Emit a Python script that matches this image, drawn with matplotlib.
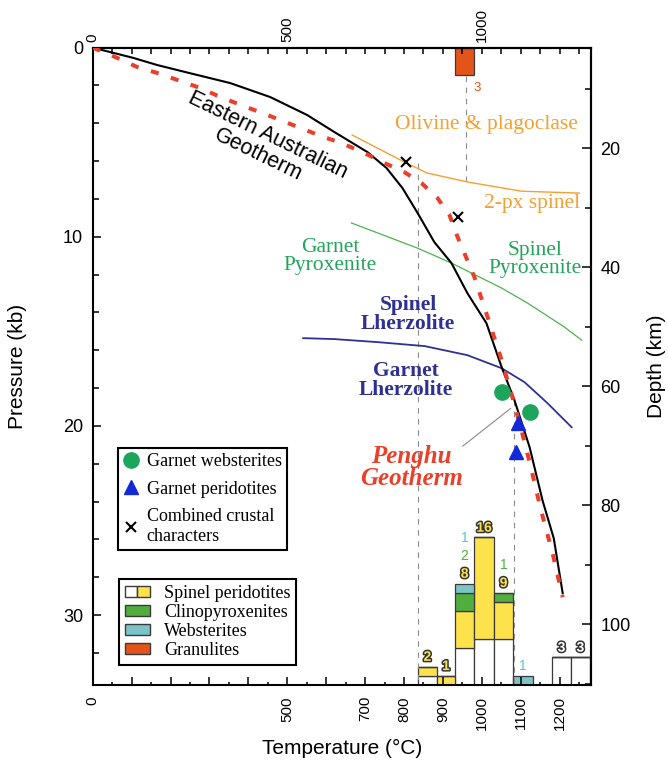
import matplotlib

matplotlib.use("Agg")

import matplotlib.pyplot as plt
import matplotlib.patheffects as pe
from matplotlib.legend_handler import HandlerTuple
from matplotlib.lines import Line2D
from matplotlib.patches import Patch

SANS = "Liberation Sans"
SERIF = "Liberation Serif"

# geotherms and phase boundaries: temperature (degC), pressure (kb)
EA_T = [0, 104, 166, 250, 353, 456, 551, 621, 706, 755, 796, 835, 878, 922,
        963, 1012, 1051, 1084, 1123, 1156, 1185, 1208]
EA_P = [0, 0.54, 0.92, 1.35, 1.87, 2.61, 3.56, 4.46, 5.52, 6.36, 7.42, 8.74,
        10.28, 11.39, 12.98, 14.57, 16.89, 18.64, 21.13, 23.93, 25.94, 28.85]
PH_T = [0, 63, 114, 166, 225, 276, 328, 387, 449, 534, 593, 639, 698, 750,
        801, 845, 886, 917, 938, 981, 1015, 1051, 1076, 1102, 1125, 1151, 1182, 1208]
PH_P = [0, 0.54, 1.02, 1.34, 1.76, 2.13, 2.61, 3.08, 3.56, 4.25, 4.72, 5.04,
        5.57, 6.10, 6.58, 7.16, 7.95, 8.85, 10.02, 12.13, 14.25, 16.52, 18.27,
        20.23, 22.08, 24.36, 26.74, 29.06]
OLIV_T = [667, 806, 860, 963, 1102, 1251]
OLIV_P = [4.62, 6.10, 6.63, 7.10, 7.59, 7.69]
PYX_T = [665, 835, 922, 1051, 1118, 1213, 1257]
PYX_P = [9.27, 10.60, 11.39, 12.71, 13.51, 14.78, 15.47]
LHZ_T = [541, 621, 732, 853, 963, 1051, 1110, 1169, 1231]
LHZ_P = [15.36, 15.41, 15.57, 15.78, 16.26, 16.95, 17.69, 18.80, 20.07]

# xenolith estimates
GWEB_T = [1052, 1123]
GWEB_P = [18.20, 19.26]
GPER_T = [1093, 1087]
GPER_P = [19.87, 21.38]
CRUST_T = [804, 940]
CRUST_P = [6.05, 8.96]

# temperature histogram (counts per bin)
BIN_LEFT = [835, 885, 931, 981, 1031, 1081, 1181, 1229]
BIN_RIGHT = [885, 931, 981, 1031, 1081, 1131, 1229, 1278]
SPL_WHITE = [1, 0, 4, 5, 5, 0, 3, 3]
SPL_YELLOW = [1, 1, 4, 11, 4, 0, 0, 0]
CPX = [0, 0, 2, 0, 1, 0, 0, 0]
WEB = [0, 0, 1, 0, 0, 1, 0, 0]
GRAN_LEFT, GRAN_RIGHT, GRAN_N = 931, 981, 3

# guide lines
GUIDE_T = [835, 960, 1082]
GUIDE_P0 = [6.1, 1.5, 18.64]
GUIDE_P1 = [33.7, 7.1, 33.7]
LEADER_T = [951, 1074]
LEADER_P = [21.07, 19.08]

BOTTOM_TICKS = list(range(0, 1300, 100))
BOTTOM_LABELS = ["0", "", "", "", "", "500", "", "700", "800", "900", "1000", "1100", "1200"]
TOP_TICKS = [0, 500, 1000]
P_TICKS = [0, 10, 20, 30]
DEPTH_TICKS = [20, 40, 60, 80, 100]
DEPTH_MINOR = [10, 30, 50, 70, 90, 110]

RED = "#e8402a"
ORANGE = "#f5a033"
GREEN_LINE = "#4cb24e"
GREEN_TXT = "#22a55b"
NAVY = "#2e3192"
YELLOW = "#fde24b"
BAR_GREEN = "#52ad3f"
CYAN = "#7dc4c8"
GRAN = "#e4541a"
EDGE = "#3a3a3a"
GREY = "#8a8a8a"


def p_to_depth(p):
    return 3.18 * p + 3.07


def depth_to_p(d):
    return (d - 3.07) / 3.18


fig = plt.figure(figsize=(6.68, 7.7), dpi=100)
ax = fig.add_axes([0.1388, 0.1104, 0.7455, 0.8277])
ax.set_xlim(0, 1280)
ax.set_ylim(33.7, 0)

for sp in ax.spines.values():
    sp.set_linewidth(1.5)

# bottom axis
ax.set_xticks(BOTTOM_TICKS)
ax.set_xticklabels(BOTTOM_LABELS, rotation=90, fontsize=11, family=SANS)
ax.set_xticks(range(50, 1300, 100), minor=True)
ax.tick_params(axis="x", which="major", direction="in", length=5.5, width=1.1, pad=8)
ax.tick_params(axis="x", which="minor", direction="in", length=2.3, width=1.1)
ax.set_xlabel("Temperature (°C)", fontsize=15, family=SANS)
ax.xaxis.set_label_coords(0.5, -0.085)

# left axis
ax.set_yticks(P_TICKS)
ax.set_yticklabels([str(v) for v in P_TICKS], fontsize=13, family=SANS)
ax.set_yticks(range(2, 34, 2), minor=True)
ax.tick_params(axis="y", which="major", direction="in", length=5.5, width=1.1, pad=7)
ax.tick_params(axis="y", which="minor", direction="in", length=4, width=1.1)
ax.set_ylabel("Pressure (kb)", fontsize=15, family=SANS)
ax.yaxis.set_label_coords(-0.132, 0.5)

# top axis
top = ax.secondary_xaxis("top")
top.set_xticks(TOP_TICKS)
top.set_xticklabels([str(v) for v in TOP_TICKS], rotation=90, fontsize=11, family=SANS)
top.set_xticks(range(50, 1300, 50), minor=True)
top.tick_params(which="both", direction="in", length=4, width=1.1, pad=4)
top.spines["top"].set_linewidth(1.5)

# right depth axis
right = ax.secondary_yaxis("right", functions=(p_to_depth, depth_to_p))
right.set_yticks(DEPTH_TICKS)
right.set_yticklabels([str(v) for v in DEPTH_TICKS], fontsize=13, family=SANS)
right.set_yticks(DEPTH_MINOR, minor=True)
right.tick_params(which="major", direction="in", length=6.5, width=1.1, pad=7)
right.tick_params(which="minor", direction="in", length=4, width=1.1)
right.spines["right"].set_linewidth(1.5)
right.set_ylabel("Depth (km)", fontsize=15, family=SANS, labelpad=12)

# guide lines
for t, p0, p1 in zip(GUIDE_T, GUIDE_P0, GUIDE_P1):
    ax.plot([t, t], [p0, p1], color=GREY, lw=0.8, dashes=(5, 5), zorder=1)
ax.plot(LEADER_T, LEADER_P, color=GREY, lw=0.8, zorder=1)

# phase boundaries
ax.plot(OLIV_T, OLIV_P, color=ORANGE, lw=1.0, zorder=2)
ax.plot(PYX_T, PYX_P, color=GREEN_LINE, lw=0.9, zorder=2)
ax.plot(LHZ_T, LHZ_P, color=NAVY, lw=1.3, zorder=2)

# geotherms
ax.plot(EA_T, EA_P, color="black", lw=1.5, zorder=3)
ax.plot(PH_T, PH_P, color=RED, lw=2.9, dashes=(2, 3.2), solid_capstyle="butt", zorder=4)

# xenolith points
ax.plot(GWEB_T, GWEB_P, ls="none", marker="o", ms=11, color="#1da55c", zorder=5)
ax.plot(GPER_T, GPER_P, ls="none", marker="^", ms=10, color="#1229d8", zorder=5)
ax.plot(CRUST_T, CRUST_P, ls="none", marker="x", ms=7, mew=1.5, color="black", zorder=5)

# labels
ax.text(437, 5.15, "Eastern Australian\nGeotherm", rotation=-26, rotation_mode="anchor",
        ha="center", va="center", fontsize=15.5, family=SANS, linespacing=1.0)
ax.text(1013, 4.05, "Olivine & plagoclase", color=ORANGE, fontsize=15.5, family=SERIF,
        ha="center", va="center")
ax.text(1128, 8.26, "2-px spinel", color=ORANGE, fontsize=15.5, family=SERIF,
        ha="center", va="center")
ax.text(611, 11.05, "Garnet\nPyroxenite", color=GREEN_TXT, fontsize=15.5, family=SERIF,
        ha="center", va="center", linespacing=0.95)
ax.text(1138, 11.2, "Spinel\nPyroxenite", color=GREEN_TXT, fontsize=15.5, family=SERIF,
        ha="center", va="center", linespacing=0.95)
ax.text(811, 14.1, "Spinel\nLherzolite", color=NAVY, fontsize=15.5, family=SERIF,
        fontweight="bold", ha="center", va="center", linespacing=0.95)
ax.text(804, 17.6, "Garnet\nLherzolite", color=NAVY, fontsize=15.5, family=SERIF,
        fontweight="bold", ha="center", va="center", linespacing=0.95)
ax.text(819, 22.2, "Penghu\nGeotherm", color=RED, fontsize=18, family=SERIF,
        fontweight="bold", style="italic", ha="center", va="center", linespacing=0.95)

# histogram on its own count scale
axh = ax.twinx()
axh.set_ylim(0, 69.1)
axh.set_axis_off()
axh.set_zorder(ax.get_zorder() + 0.5)
ax.set_zorder(axh.get_zorder() + 0.5)
ax.patch.set_visible(False)

lefts = BIN_LEFT
widths = [r - l for l, r in zip(BIN_LEFT, BIN_RIGHT)]
base = [0] * len(lefts)
for counts, color in [(SPL_WHITE, "white"), (SPL_YELLOW, YELLOW), (CPX, BAR_GREEN), (WEB, CYAN)]:
    axh.bar(lefts, counts, width=widths, bottom=base, align="edge",
            color=color, edgecolor=EDGE, linewidth=0.9)
    base = [b + c for b, c in zip(base, counts)]

axh.bar([GRAN_LEFT], [-GRAN_N], width=GRAN_RIGHT - GRAN_LEFT, bottom=69.1, align="edge",
        color=GRAN, edgecolor=EDGE, linewidth=0.9)
axh.annotate(str(GRAN_N), (GRAN_RIGHT, 69.1 - GRAN_N), xytext=(2, -9),
             textcoords="offset points", ha="center", va="center",
             color=GRAN, fontsize=9.5, family=SANS)

outline = [pe.withStroke(linewidth=2.2, foreground="#333333")]
for i in range(len(lefts)):
    xc = (BIN_LEFT[i] + BIN_RIGHT[i]) / 2
    entries = []
    spl = SPL_WHITE[i] + SPL_YELLOW[i]
    if spl:
        entries.append((spl, YELLOW if SPL_YELLOW[i] else "white", True))
    if CPX[i]:
        entries.append((CPX[i], BAR_GREEN, False))
    if WEB[i]:
        entries.append((WEB[i], "#5cc3cc", False))
    for k, (n, col, stroke) in enumerate(entries):
        axh.annotate(str(n), (xc, base[i]), xytext=(0, 7 + 13 * k),
                     textcoords="offset points", ha="center", va="center",
                     color=col, fontsize=10, family=SANS,
                     fontweight="bold" if stroke else "normal",
                     path_effects=outline if stroke else None)

# legends
pt_handles = [
    Line2D([], [], ls="none", marker="o", ms=11, color="#1da55c"),
    Line2D([], [], ls="none", marker="^", ms=10, color="#1229d8"),
    Line2D([], [], ls="none", marker="x", ms=7, mew=1.5, color="black"),
]
pt_labels = ["Garnet websterites", "Garnet peridotites", "Combined crustal\ncharacters"]
leg1 = ax.legend(pt_handles, pt_labels, loc="upper left", bbox_to_anchor=(0.05, 0.372),
                 prop={"family": SERIF, "size": 13}, frameon=True, fancybox=False,
                 edgecolor="black", framealpha=1, handlelength=0.9, handletextpad=0.4,
                 borderpad=0.3, labelspacing=0.58, borderaxespad=0)
leg1.get_frame().set_linewidth(1.5)
ax.add_artist(leg1)

bar_handles = [
    (Patch(fc="white", ec=EDGE), Patch(fc=YELLOW, ec=EDGE)),
    Patch(fc=BAR_GREEN, ec=EDGE),
    Patch(fc=CYAN, ec=EDGE),
    Patch(fc=GRAN, ec=EDGE),
]
bar_labels = ["Spinel peridotites", "Clinopyroxenites", "Websterites", "Granulites"]
leg2 = ax.legend(bar_handles, bar_labels, loc="upper left", bbox_to_anchor=(0.053, 0.166),
                 handler_map={tuple: HandlerTuple(ndivide=None, pad=0)},
                 prop={"family": SERIF, "size": 13}, frameon=True, fancybox=False,
                 edgecolor="black", framealpha=1, handlelength=1.4, handleheight=0.6,
                 handletextpad=0.8, borderpad=0.3, labelspacing=0.12, borderaxespad=0)
leg2.get_frame().set_linewidth(1.5)

fig.savefig("out.png", dpi=100)
